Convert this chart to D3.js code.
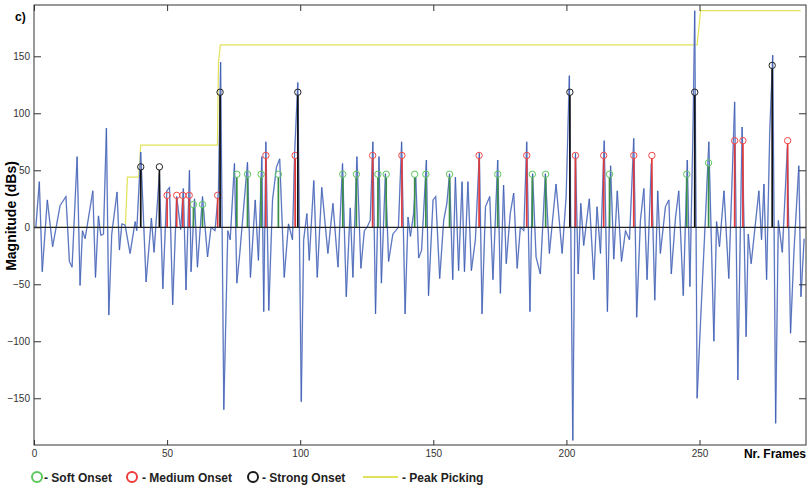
<!DOCTYPE html>
<html>
<head>
<meta charset="utf-8">
<script src="https://cdn.jsdelivr.net/npm/d3@7"></script>
<style>
  body { margin: 0; background: #fff; }
  svg { display: block; font-family: Arial, "Liberation Sans", sans-serif; }
  .tick text { font-size: 10px; fill: #333; }
  .legend text { font-size: 12px; font-weight: bold; fill: #222; }
</style>
</head>
<body>
<svg id="chart"></svg>
<script>
// signal samples (frame, magnitude in dBs)
const signalFrame = [
  0.7, 2.0, 3.1, 5.0, 7.0, 9.8, 12.0, 13.3, 14.3, 16.2, 17.3, 18.2, 19.2, 22.1, 23.1, 24.2, 25.1, 26.1, 27.2, 28.1,
  29.2, 31.2, 32.1, 33.0, 34.2, 36.1, 38.0, 38.6, 40.1, 42.1, 44.1, 45.1, 47.1, 48.4, 49.9, 50.9, 52.1, 53.6, 55.1, 56.1,
  57.1, 58.4, 59.0, 60.3, 61.4, 63.3, 65.2, 66.5, 68.0, 69.3, 70.1, 71.3, 72.8, 73.7, 75.3, 76.2, 77.3, 80.2, 81.3, 83.1,
  84.3, 85.6, 86.3, 87.1, 88.2, 89.6, 91.1, 92.3, 94.0, 95.6, 97.1, 97.9, 99.1, 100.4, 101.3, 102.5, 103.4, 105.1, 106.4, 108.1,
  110.4, 112.3, 114.2, 115.9, 117.3, 118.8, 119.8, 121.3, 122.8, 124.1, 125.1, 126.3, 127.3, 128.3, 129.6, 130.5, 132.0, 133.2, 134.8, 136.9,
  138.1, 139.4, 140.5, 141.4, 142.6, 143.4, 144.5, 145.6, 147.4, 148.2, 149.9, 150.9, 152.4, 153.9, 155.1, 156.1, 157.3, 158.3, 159.5, 160.8,
  161.7, 163.0, 164.3, 165.8, 167.3, 168.3, 169.6, 171.2, 172.4, 174.2, 175.2, 176.4, 177.4, 178.9, 180.2, 181.5, 182.7, 184.0, 185.1, 186.3,
  187.3, 188.6, 190.2, 192.1, 193.6, 196.1, 198.4, 199.9, 201.1, 202.4, 203.4, 204.4, 205.4, 206.5, 208.6, 210.3, 211.5, 212.8, 214.2, 215.4,
  216.6, 217.8, 219.1, 220.7, 222.2, 223.7, 225.3, 226.4, 227.8, 229.1, 230.3, 231.9, 233.2, 234.3, 235.3, 237.2, 238.5, 239.4, 241.0, 242.2,
  243.9, 245.4, 246.4, 247.6, 248.2, 249.1, 250.4, 252.3, 253.5, 255.4, 256.4, 257.5, 259.2, 261.0, 263.2, 264.4, 266.0, 267.5, 268.3, 269.4,
  272.3, 273.3, 274.2, 275.2, 276.4, 277.5, 278.6, 279.6, 281.1, 283.0, 284.2, 285.5, 287.3, 288.1, 289.3
]
const signalMag = [
  0, 40, -39, 24, -17, 19, 27, -30, -35, 62, -51, -3, -10, 32, -44, 10, -7, -6, 87, -77,
  -6, 31, -20, 3, 2, -23, 5, -3, 66, -48, 8, -22, 47, -54, 32, 35, -68, 27, -2, 34,
  -55, 50, -39, 25, -35, 27, -26, 0, -3, 32, 145, -160, -3, -11, 56, -49, -23, 57, -44, 24,
  -29, 62, -74, 75, -73, 24, 53, 60, -44, 3, -11, 65, 127, -153, -11, 12, -29, 41, -44, 35,
  -23, 21, -35, 56, -61, 17, -44, 62, -36, -3, 0, 6, 75, -76, 62, -49, 47, -30, -6, 0,
  75, -76, 9, -8, 12, 44, -27, -20, 59, -60, 24, 27, -45, 6, 21, 47, -46, 44, -38, 40,
  -39, 40, -38, -11, 65, -76, 18, 27, -46, 59, -58, 37, -32, 12, 30, -36, 0, -3, 75, -74,
  47, -26, -41, 47, -23, 38, -23, 27, 133, -187, 65, -41, 21, -16, 25, -46, 18, -23, 76, -74,
  54, -28, 32, -30, -3, -11, 78, -79, 6, 34, -46, 56, -64, 32, -23, 18, 24, -41, 9, 32,
  -60, 59, -52, 94, 190, -150, -82, 12, 75, -100, 5, -17, 32, -45, 110, -134, 88, -96, -6, -32,
  32, -11, 38, -46, 85, 151, -172, 6, -22, 70, -93, -20, 54, -61, -10
]

// peak picking threshold
const peakFrame = [0, 34.3, 35.1, 39.3, 40.1, 68.9, 69.3, 70.0, 249.1, 250.4, 288.0]
const peakMag = [0, 0, 44, 44, 72, 72, 145, 160, 160, 190, 190]

// onsets
const softFrame = [59.9, 63.3, 76.2, 80.2, 85.3, 91.8, 116.0, 121.1, 129.2, 132.3, 143.0, 147.2, 156.1, 174.2, 187.2, 192.2, 216.2, 245.2, 253.4]
const softMag = [20, 20, 46.5, 46.5, 46.5, 46.5, 46.5, 46.5, 46.5, 46.5, 46.5, 46.5, 46.5, 46.5, 46.5, 46.5, 46.5, 46.5, 56.5]
const mediumFrame = [50.0, 53.6, 55.9, 58.3, 69.0, 87.1, 98.1, 127.2, 138.2, 167.2, 185.1, 203.4, 214.0, 225.3, 232.1, 263.2, 266.3, 283.1]
const mediumMag = [28, 28, 28, 28, 28, 63, 63, 63, 63, 63, 63, 63, 63, 63, 63, 76, 76, 76]
const strongFrame = [40.1, 47.1, 69.9, 99.1, 201.3, 248.2, 277.3]
const strongMag = [53, 53, 118.5, 118.5, 118.5, 118.5, 142]

const xTicks = [0, 50, 100, 150, 200, 250]
const yTicks = [-150, -100, -50, 0, 50, 100, 150]

const width = 812, height = 490
const plot = {left: 34, top: 5, right: 806, bottom: 445}

const svg = d3.select('#chart').attr('width', width).attr('height', height)

const x = d3.scaleLinear().domain([0, 290]).range([plot.left, plot.right])
const y = d3.scaleLinear().domain([-191, 195]).range([plot.bottom, plot.top])

// peak picking line (behind the signal)
svg.append('path')
  .datum(peakFrame.map((f, i) => [f, peakMag[i]]))
  .attr('fill', 'none')
  .attr('stroke', '#e2e25a')
  .attr('stroke-width', 1.2)
  .attr('d', d3.line().x(d => x(d[0])).y(d => y(d[1])))

// signal: soft halo under a thin dark line, like the blurred original
const signalLine = d3.line().x(d => x(d[0])).y(d => y(d[1]))
const signalPts = signalFrame.map((f, i) => [f, signalMag[i]])
svg.append('path')
  .datum(signalPts)
  .attr('fill', 'none')
  .attr('stroke', '#bcc7ea')
  .attr('stroke-width', 1.6)
  .attr('d', signalLine)
svg.append('path')
  .datum(signalPts)
  .attr('fill', 'none')
  .attr('stroke', '#3a5ab0')
  .attr('stroke-width', 0.8)
  .attr('d', signalLine)

// onset stems + circles
const onsets = [
  {frames: softFrame, mags: softMag, stem: '#3a8f48', ring: '#5cc85c'},
  {frames: mediumFrame, mags: mediumMag, stem: '#e23a3a', ring: '#f04848'},
  {frames: strongFrame, mags: strongMag, stem: '#111', ring: '#222'}
]
onsets.forEach(o => {
  const pts = o.frames.map((f, i) => ({f: f, m: o.mags[i]}))
  svg.append('g').selectAll('line')
    .data(pts).enter().append('line')
    .attr('x1', d => x(d.f)).attr('x2', d => x(d.f))
    .attr('y1', y(0)).attr('y2', d => y(d.m) + 3)
    .attr('stroke', o.stem)
    .attr('stroke-width', 1.7)
  svg.append('g').selectAll('circle')
    .data(pts).enter().append('circle')
    .attr('cx', d => x(d.f)).attr('cy', d => y(d.m))
    .attr('r', 3.2)
    .attr('fill', 'none')
    .attr('stroke', o.ring)
    .attr('stroke-width', 1)
})

// zero line
svg.append('line')
  .attr('x1', plot.left).attr('x2', plot.right)
  .attr('y1', y(0)).attr('y2', y(0))
  .attr('stroke', '#222').attr('stroke-width', 1.3)

// axes: ticks point inward, box round the plot
svg.append('g')
  .attr('transform', 'translate(0,' + plot.bottom + ')')
  .call(d3.axisBottom(x).tickValues(xTicks).tickSizeInner(-5).tickSizeOuter(0).tickPadding(5))
svg.append('g')
  .attr('transform', 'translate(0,' + plot.top + ')')
  .call(d3.axisTop(x).tickValues(xTicks).tickSizeInner(-6).tickSizeOuter(0).tickFormat(''))
svg.append('g')
  .attr('transform', 'translate(' + plot.left + ',0)')
  .call(d3.axisLeft(y).tickValues(yTicks).tickSizeInner(-7).tickSizeOuter(0).tickPadding(4))
svg.append('g')
  .attr('transform', 'translate(' + plot.right + ',0)')
  .call(d3.axisRight(y).tickValues(yTicks).tickSizeInner(-7).tickSizeOuter(0).tickFormat(''))
svg.selectAll('.domain').remove()
svg.selectAll('.tick line').attr('stroke', '#333')

svg.append('rect')
  .attr('x', plot.left).attr('y', plot.top)
  .attr('width', plot.right - plot.left).attr('height', plot.bottom - plot.top)
  .attr('fill', 'none').attr('stroke', '#333').attr('stroke-width', 1)

// labels
svg.append('text')
  .attr('x', plot.right).attr('y', 458)
  .attr('text-anchor', 'end')
  .style('font-size', '12px').style('font-weight', 'bold')
  .text('Nr. Frames')
svg.append('text')
  .attr('transform', 'translate(16,216) rotate(-90)')
  .attr('text-anchor', 'middle')
  .style('font-size', '14px').style('font-weight', 'bold')
  .text('Magnitude (dBs)')
svg.append('text')
  .attr('x', 15).attr('y', 21)
  .style('font-size', '12px').style('font-weight', 'bold')
  .text('c)')

// legend
const legend = svg.append('g').attr('class', 'legend')
const legendY = 477
const ringItems = [
  {cx: 37, tx: 44, color: '#5cc85c', label: '- Soft Onset'},
  {cx: 132, tx: 142, color: '#f03c3c', label: '- Medium Onset'},
  {cx: 253, tx: 262, color: '#1a1a1a', label: '- Strong Onset'}
]
ringItems.forEach(it => {
  legend.append('circle')
    .attr('cx', it.cx).attr('cy', legendY).attr('r', 5)
    .attr('fill', 'none').attr('stroke', it.color).attr('stroke-width', 2)
  legend.append('text').attr('x', it.tx).attr('y', legendY + 4.5).text(it.label)
})
legend.append('line')
  .attr('x1', 363).attr('x2', 398).attr('y1', legendY).attr('y2', legendY)
  .attr('stroke', '#e2e25a').attr('stroke-width', 2)
legend.append('text').attr('x', 402).attr('y', legendY + 4.5).text('- Peak Picking')
</script>
</body>
</html>
